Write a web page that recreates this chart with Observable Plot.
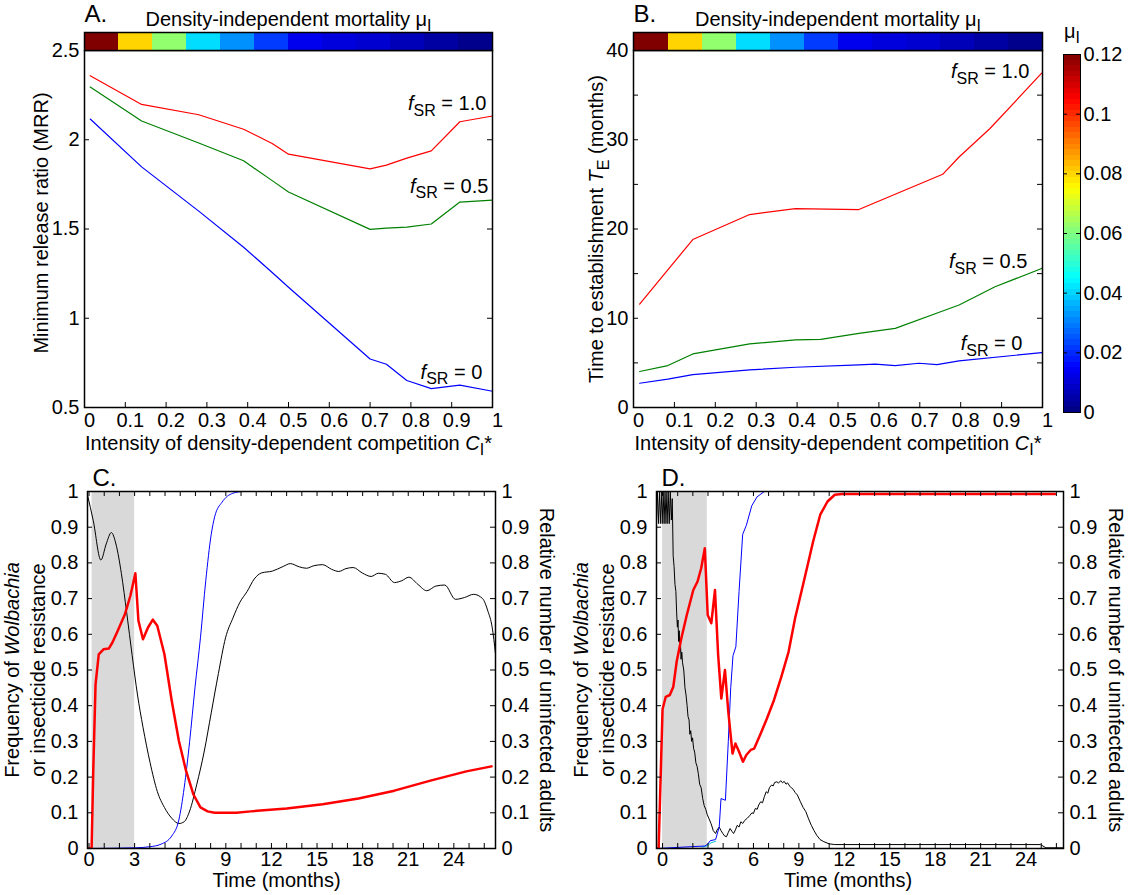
<!DOCTYPE html>
<html><head><meta charset="utf-8">
<script src="https://cdn.jsdelivr.net/npm/d3@7"></script>
<script src="https://cdn.jsdelivr.net/npm/@observablehq/plot@0.6"></script>
<style>
body{margin:0;background:#fff;}
#fig{position:relative;width:1128px;height:895px;overflow:hidden;background:#fff;}
#fig svg{position:absolute;overflow:visible;}
</style></head><body><div id="fig"></div>
<script>
// ---------------- DATA ----------------
// Panel A: minimum release ratio vs competition intensity
const competitionA = [0.014, 0.14, 0.28, 0.39, 0.46, 0.50, 0.70, 0.74, 0.79, 0.85, 0.92, 1.0];
const mrrF10 = [2.358, 2.198, 2.14, 2.059, 1.979, 1.919, 1.837, 1.858, 1.897, 1.938, 2.101, 2.133];
const mrrF05 = [2.295, 2.105, 1.982, 1.882, 1.771, 1.707, 1.498, 1.505, 1.511, 1.528, 1.651, 1.662];
const mrrF00 = [2.116, 1.848, 1.60, 1.398, 1.256, 1.174, 0.772, 0.742, 0.651, 0.606, 0.625, 0.591];
// Panel B: time to establishment (months)
const teF10 = [[0.015,11.59],[0.145,18.82],[0.284,21.62],[0.396,22.29],[0.551,22.18],[0.756,26.13],[0.796,28.07],[0.871,31.23],[0.998,37.46]];
const teF05 = [[0.015,4.03],[0.084,4.70],[0.145,6.0],[0.284,7.12],[0.396,7.57],[0.458,7.64],[0.551,8.31],[0.64,8.87],[0.751,10.73],[0.796,11.48],[0.884,13.53],[0.998,15.58]];
const teF00 = [[0.015,2.72],[0.084,3.17],[0.145,3.69],[0.284,4.21],[0.396,4.51],[0.551,4.77],[0.591,4.85],[0.64,4.70],[0.698,4.96],[0.742,4.81],[0.796,5.22],[0.998,6.15]];
// density-independent mortality for the 12 strip segments
const segIndex = [0,1,2,3,4,5,6,7,8,9,10,11];
const segMu = [0.12, 0.08, 0.062, 0.041, 0.032, 0.022, 0.013, 0.011, 0.0095, 0.0066, 0.004, 0.0015];
// Panel C time series (months, frequency)
const releaseC = [[0.2, 3.0]];
const cWolbachia = [[-0.1,0],[3.07,0.002],[4.02,0.005],[4.73,0.012],[5.44,0.035],[5.91,0.08],[6.26,0.17],[6.62,0.30],[6.97,0.45],[7.33,0.59],[7.68,0.75],[8.04,0.88],[8.27,0.93],[8.75,0.97],[9.46,0.995],[10.17,1.0],[26.74,1.0]];
const cResistance = [[-0.1,0],[0.17,0],[0.28,0.22],[0.43,0.46],[0.64,0.544],[0.95,0.558],[1.30,0.56],[1.54,0.577],[1.89,0.61],[2.36,0.656],[2.72,0.708],[3.05,0.771],[3.25,0.638],[3.55,0.586],[3.88,0.619],[4.2,0.641],[4.49,0.624],[4.96,0.544],[5.44,0.414],[5.91,0.302],[6.38,0.218],[6.86,0.152],[7.33,0.115],[7.80,0.104],[8.27,0.100],[9.69,0.100],[10.64,0.104],[13.0,0.112],[15.37,0.124],[17.73,0.140],[20.09,0.162],[22.46,0.190],[24.82,0.216],[26.48,0.230]];
const cUninfected = [[-0.1,0.99],[0.28,0.918],[0.78,0.808],[1.13,0.853],[1.47,0.885],[1.77,0.853],[2.13,0.77],[2.48,0.66],[2.84,0.54],[3.19,0.43],[3.55,0.34],[4.02,0.24],[4.49,0.16],[4.96,0.115],[5.44,0.085],[5.91,0.07],[6.26,0.075],[6.62,0.105],[7.09,0.18],[7.57,0.27],[8.04,0.38],[8.51,0.49],[8.98,0.59],[9.46,0.645],[9.93,0.69],[10.4,0.72],[10.87,0.755],[11.35,0.772],[12.06,0.777],[12.77,0.79],[13.24,0.798],[13.83,0.789],[14.3,0.785],[14.78,0.792],[15.37,0.795],[15.96,0.782],[16.43,0.776],[16.9,0.784],[17.38,0.787],[17.97,0.772],[18.56,0.762],[19.03,0.771],[19.5,0.768],[20.09,0.745],[20.57,0.75],[21.04,0.76],[21.63,0.74],[22.22,0.722],[22.81,0.735],[23.4,0.738],[24.11,0.698],[24.7,0.703],[25.3,0.712],[25.89,0.70],[26.24,0.665],[26.52,0.62],[26.74,0.545]];
// Panel D time series
const releaseD = [[0, 2.95]];
const dWolbachia = [[-0.4,0],[2.79,0.007],[2.98,0.012],[3.15,0.022],[3.50,0.025],[3.74,0.06],[3.86,0.14],[4.15,0.135],[4.34,0.30],[4.50,0.45],[4.65,0.54],[4.84,0.565],[5.05,0.72],[5.29,0.88],[5.53,0.905],[5.89,0.96],[6.24,0.985],[6.72,1.0],[25.9,1.0]];
const dOther = [[2.6,0.004],[2.98,0.008],[3.2,0.016],[3.5,0.02]];
const dResistance = [[-0.4,0],[-0.26,0],[0.0,0.39],[0.21,0.425],[0.48,0.43],[0.71,0.453],[0.93,0.523],[1.24,0.589],[1.60,0.654],[2.03,0.724],[2.31,0.748],[2.55,0.785],[2.79,0.841],[2.98,0.654],[3.22,0.631],[3.46,0.724],[3.67,0.542],[3.88,0.42],[4.12,0.5],[4.34,0.383],[4.62,0.266],[4.81,0.294],[5.05,0.271],[5.31,0.243],[5.53,0.262],[5.82,0.276],[6.05,0.28],[6.48,0.322],[6.89,0.364],[7.36,0.416],[7.84,0.481],[8.32,0.551],[8.75,0.645],[9.22,0.729],[9.58,0.794],[9.94,0.86],[10.41,0.935],[10.89,0.972],[11.37,0.991],[11.84,0.993],[25.9,0.993]];
const dUninfected = [[-0.4,0.91],[-0.33,1.0],[-0.26,0.91],[-0.19,1.0],[-0.12,0.91],[-0.05,1.0],[0.02,0.91],[0.09,1.0],[0.16,0.91],[0.23,1.0],[0.3,0.91],[0.37,1.0],[0.44,0.91],[0.51,1.0],[0.58,0.92],[0.64,0.98],[0.70,0.82],[0.76,0.79],[0.82,0.74],[0.88,0.72],[0.93,0.66],[0.98,0.62],[1.02,0.64],[1.06,0.58],[1.10,0.61],[1.14,0.55],[1.18,0.58],[1.22,0.53],[1.27,0.55],[1.32,0.52],[1.40,0.50],[1.48,0.45],[1.55,0.43],[1.62,0.40],[1.68,0.37],[1.75,0.36],[1.80,0.32],[1.86,0.33],[1.92,0.30],[1.98,0.31],[2.05,0.28],[2.12,0.27],[2.2,0.24],[2.28,0.23],[2.36,0.21],[2.45,0.18],[2.55,0.17],[2.65,0.14],[2.75,0.12],[2.85,0.11],[2.95,0.095],[3.05,0.085],[3.2,0.07],[3.35,0.05],[3.5,0.042],[3.6,0.052],[3.74,0.06],[3.86,0.05],[3.98,0.042],[4.1,0.035],[4.22,0.033],[4.34,0.045],[4.46,0.056],[4.58,0.048],[4.69,0.042],[4.81,0.052],[4.93,0.065],[5.05,0.06],[5.17,0.075],[5.29,0.07],[5.41,0.078],[5.6,0.085],[5.77,0.093],[5.9,0.1],[6.0,0.098],[6.12,0.112],[6.25,0.11],[6.35,0.122],[6.48,0.131],[6.6,0.128],[6.72,0.145],[6.84,0.159],[6.95,0.155],[7.05,0.17],[7.2,0.178],[7.3,0.175],[7.4,0.185],[7.55,0.187],[7.65,0.183],[7.8,0.19],[7.92,0.184],[8.03,0.188],[8.15,0.18],[8.25,0.184],[8.39,0.175],[8.5,0.17],[8.62,0.166],[8.75,0.157],[8.9,0.15],[9.1,0.131],[9.28,0.115],[9.46,0.103],[9.64,0.083],[9.82,0.065],[10.0,0.05],[10.18,0.037],[10.4,0.025],[10.65,0.019],[11.0,0.013],[11.37,0.011],[24.95,0.011],[25.31,0.002],[26.47,0.002]];
// tick values
const ticksAX = [0,0.1,0.2,0.3,0.4,0.5,0.6,0.7,0.8,0.9,1];
const ticksAY = [0.5,1,1.5,2,2.5];
const ticksBY = [0,10,20,30,40];
const minorBY = [0,5,10,15,20,25,30,35,40];
const ticksTime = [0,3,6,9,12,15,18,21,24];
const minorTime = [0,1,2,3,4,5,6,7,8,9,10,11,12,13,14,15,16,17,18,19,20,21,22,23,24,25,26];
const ticksFreq = [0,0.1,0.2,0.3,0.4,0.5,0.6,0.7,0.8,0.9,1];
const ticksMu = [0,0.02,0.04,0.06,0.08,0.1,0.12];
// inline labels (data coordinates)
const labelText = ["<i>f</i><sub>SR</sub> = 1.0", "<i>f</i><sub>SR</sub> = 0.5", "<i>f</i><sub>SR</sub> = 0"];
const labelXA = [0.985, 0.99, 0.975], labelYA = [2.164, 1.704, 0.662];
const labelXB = [0.968, 0.963, 0.951], labelYB = [36.9, 15.6, 6.4];

// ---------------- HELPERS ----------------
const FONT = '"Liberation Sans", Arial, Helvetica, sans-serif';
const baseStyle = {fontFamily: FONT, fontSize: "20px", color: "#000", background: "transparent", overflow: "visible"};
const fmt = d => String(d);
function jet(t) {
  const c = v => Math.max(0, Math.min(1, v));
  const r = c(Math.min(4*t - 1.5, -4*t + 4.5));
  const g = c(Math.min(4*t - 0.5, -4*t + 3.5));
  const b = c(Math.min(4*t + 0.5, -4*t + 2.5));
  return d3.rgb(r*255, g*255, b*255).formatHex();
}
const jetScale = {type: "linear", domain: [0, 0.12], interpolate: jet};
const lbl = (t, o) => Plot.text([t], {text: d => d, ...o});
const vlbl = (t, o) => Plot.text([t], {text: d => d, textAnchor: "middle", lineAnchor: "middle", ...o});
const px = d => d[0], py = d => d[1];

const fig = document.getElementById("fig");
function enrich(svg) {
  const NS = "http://www.w3.org/2000/svg";
  svg.querySelectorAll("text").forEach(t => {
    const src = t.textContent;
    if (!/<(i|sub)>/.test(src)) return;
    const fs = parseFloat(getComputedStyle(t).fontSize) || 20;
    while (t.firstChild) t.removeChild(t.firstChild);
    const re = /<i>(.*?)<\/i>|<sub>(.*?)<\/sub>|([^<]+)/g;
    let m, low = false; const sh = 0.28 * fs;
    while ((m = re.exec(src))) {
      const s = document.createElementNS(NS, "tspan");
      if (m[2] !== undefined) {
        s.textContent = m[2]; s.setAttribute("font-size", 0.8 * fs);
        if (!low) { s.setAttribute("dy", sh); low = true; }
      } else {
        s.textContent = m[1] !== undefined ? m[1] : m[3];
        if (m[1] !== undefined) s.setAttribute("font-style", "italic");
        if (low) { s.setAttribute("dy", -sh); low = false; }
      }
      t.appendChild(s);
    }
  });
}
function place(svg, left, top) {
  svg.style.left = left + "px"; svg.style.top = top + "px";
  fig.appendChild(svg); enrich(svg);
}

// ---------------- PANEL A ----------------
{
  const fw = 408, fh = 357;
  place(Plot.plot({
    width: 520, height: 440, marginLeft: 84, marginRight: 28, marginTop: 50, marginBottom: 33,
    style: baseStyle, x: {domain: [0, 1]}, y: {domain: [0.5, 2.5]},
    marks: [
      Plot.line(competitionA, {x: d => d, y: (d, i) => mrrF10[i], stroke: "#ff0000", strokeWidth: 1.2}),
      Plot.line(competitionA, {x: d => d, y: (d, i) => mrrF05[i], stroke: "#008000", strokeWidth: 1.2}),
      Plot.line(competitionA, {x: d => d, y: (d, i) => mrrF00[i], stroke: "#0000ff", strokeWidth: 1.2}),
      Plot.tickX(ticksAX, {x: d => d, insetTop: fh - 5}),
      Plot.tickY(ticksAY, {y: d => d, insetRight: fw - 5}),
      Plot.tickY(ticksAY, {y: d => d, insetLeft: fw - 5}),
      Plot.axisX({ticks: ticksAX, tickSize: 0, tickPadding: 5, tickFormat: fmt, label: null, dx: 5}),
      Plot.axisY({ticks: ticksAY, tickSize: 0, tickPadding: 5, tickFormat: fmt, label: null}),
      Plot.frame({stroke: "#000", strokeWidth: 1.5}),
      Plot.text(labelText, {x: (d, i) => labelXA[i], y: (d, i) => labelYA[i], text: d => d, textAnchor: "end", lineAnchor: "bottom", fontSize: 20}),
      lbl("A.", {frameAnchor: "top-left", textAnchor: "start", lineAnchor: "bottom", dy: -29, fontSize: 24}),
      lbl("Density-independent mortality μ<sub>I</sub>", {frameAnchor: "top", textAnchor: "middle", lineAnchor: "bottom", dy: -25, fontSize: 20}),
      vlbl("Minimum release ratio (MRR)", {frameAnchor: "left", rotate: -90, dx: -43, dy: -6, fontSize: 20}),
      lbl("Intensity of density-dependent competition <i>C</i><sub>I</sub>*", {frameAnchor: "bottom", textAnchor: "middle", lineAnchor: "bottom", dy: 42, fontSize: 20})
    ]
  }), 0, 0);
  place(Plot.plot({
    width: 408, height: 18, margin: 0, style: baseStyle,
    x: {type: "band", padding: 0, axis: null}, color: jetScale,
    marks: [Plot.cell(segIndex, {x: d => d, fill: (d, i) => segMu[i], inset: 0}), Plot.frame({stroke: "#000", strokeWidth: 1.5})]
  }), 84, 32);
}

// ---------------- PANEL B ----------------
{
  const fw = 409, fh = 357;
  place(Plot.plot({
    width: 500, height: 440, marginLeft: 73, marginRight: 18, marginTop: 50, marginBottom: 33,
    style: baseStyle, x: {domain: [0, 1]}, y: {domain: [0, 40]},
    marks: [
      Plot.line(teF10, {x: px, y: py, stroke: "#ff0000", strokeWidth: 1.2}),
      Plot.line(teF05, {x: px, y: py, stroke: "#008000", strokeWidth: 1.2}),
      Plot.line(teF00, {x: px, y: py, stroke: "#0000ff", strokeWidth: 1.2}),
      Plot.tickX(ticksAX, {x: d => d, insetTop: fh - 5}),
      Plot.tickY(minorBY, {y: d => d, insetRight: fw - 5}),
      Plot.tickY(minorBY, {y: d => d, insetLeft: fw - 5}),
      Plot.axisX({ticks: ticksAX, tickSize: 0, tickPadding: 5, tickFormat: fmt, label: null, dx: 5}),
      Plot.axisY({ticks: ticksBY, tickSize: 0, tickPadding: 5, tickFormat: fmt, label: null}),
      Plot.frame({stroke: "#000", strokeWidth: 1.5}),
      Plot.text(labelText, {x: (d, i) => labelXB[i], y: (d, i) => labelYB[i], text: d => d, textAnchor: "end", lineAnchor: "bottom", fontSize: 20}),
      lbl("B.", {frameAnchor: "top-left", textAnchor: "start", lineAnchor: "bottom", dy: -29, fontSize: 24}),
      lbl("Density-independent mortality μ<sub>I</sub>", {frameAnchor: "top", textAnchor: "middle", lineAnchor: "bottom", dy: -25, fontSize: 20}),
      vlbl("Time to establishment <i>T</i><sub>E</sub> (months)", {frameAnchor: "left", rotate: -90, dx: -37, dy: 0, fontSize: 20}),
      lbl("Intensity of density-dependent competition <i>C</i><sub>I</sub>*", {frameAnchor: "bottom", textAnchor: "middle", lineAnchor: "bottom", dy: 42, fontSize: 20})
    ]
  }), 560, 0);
  place(Plot.plot({
    width: 409, height: 18, margin: 0, style: baseStyle,
    x: {type: "band", padding: 0, axis: null}, color: jetScale,
    marks: [Plot.cell(segIndex, {x: d => d, fill: (d, i) => segMu[i], inset: 0}), Plot.frame({stroke: "#000", strokeWidth: 1.5})]
  }), 633, 32);
}

// ---------------- COLORBAR ----------------
{
  const n = 64, top = 0.12;
  const steps = d3.range(n).map(i => ({lo: i * top / n, hi: (i + 1) * top / n, mid: (i + 0.5) * top / n}));
  place(Plot.plot({
    width: 88, height: 385, marginLeft: 23, marginRight: 48, marginTop: 14, marginBottom: 13,
    style: baseStyle, y: {domain: [0, 0.12]}, color: jetScale,
    marks: [
      Plot.rect(steps, {y1: "lo", y2: "hi", fill: "mid", shapeRendering: "crispEdges"}),
      Plot.tickY(ticksMu, {y: d => d, insetLeft: 13}),
      Plot.tickY(ticksMu, {y: d => d, insetRight: 13}),
      Plot.axisY({anchor: "right", ticks: ticksMu, tickSize: 0, tickPadding: 3, tickFormat: fmt, label: null}),
      Plot.frame({stroke: "#000", strokeWidth: 1}),
      lbl("μ<sub>I</sub>", {frameAnchor: "top", textAnchor: "middle", lineAnchor: "bottom", dy: -17, fontSize: 20})
    ]
  }), 1040, 40);
}

// ---------------- PANELS C & D ----------------
function timePanel({letter, domain, release, wol, res, uninf, extra, ml, mr, ldx1, ldx2, rdx, xdx}) {
  const fw = 540 - ml - mr, fh = 357;
  return Plot.plot({
    width: 540, height: 430, marginLeft: ml, marginRight: mr, marginTop: 41, marginBottom: 32,
    style: baseStyle, x: {domain}, y: {domain: [0, 1]},
    marks: [
      Plot.rect(release, {x1: px, x2: py, fill: "#d9d9d9"}),
      Plot.line(uninf, {x: px, y: py, stroke: "#000", strokeWidth: 1, curve: letter === "C." ? "monotone-x" : "linear", clip: true}),
      extra ? Plot.line(extra, {x: px, y: py, stroke: "#00c8d0", strokeWidth: 1, clip: true}) : null,
      Plot.line(wol, {x: px, y: py, stroke: "#0000ff", strokeWidth: 1, curve: letter === "C." ? "monotone-x" : "linear", clip: true}),
      Plot.line(res, {x: px, y: py, stroke: "#ff0000", strokeWidth: 2.5, clip: true}),
      Plot.tickX(minorTime, {x: d => d, insetTop: fh - 5}),
      Plot.tickX(minorTime, {x: d => d, insetBottom: fh - 5}),
      Plot.tickY(ticksFreq, {y: d => d, insetRight: fw - 5}),
      Plot.tickY(ticksFreq, {y: d => d, insetLeft: fw - 5}),
      Plot.axisX({ticks: ticksTime, tickSize: 0, tickPadding: 3, tickFormat: fmt, label: null}),
      Plot.axisY({ticks: ticksFreq, tickSize: 0, tickPadding: 9, tickFormat: fmt, label: null}),
      Plot.axisY({anchor: "right", ticks: ticksFreq, tickSize: 0, tickPadding: 6, tickFormat: fmt, label: null}),
      Plot.frame({stroke: "#000", strokeWidth: 1.5}),
      lbl(letter, {frameAnchor: "top-left", textAnchor: "start", lineAnchor: "bottom", dx: 5, dy: -6, fontSize: 24}),
      vlbl("Frequency of <i>Wolbachia</i>", {frameAnchor: "left", rotate: -90, dx: ldx1, fontSize: 20}),
      vlbl("or insecticide resistance", {frameAnchor: "left", rotate: -90, dx: ldx2, fontSize: 20}),
      vlbl("Relative number of uninfected adults", {frameAnchor: "right", rotate: 90, dx: rdx, fontSize: 20}),
      lbl("Time (months)", {frameAnchor: "bottom", textAnchor: "middle", lineAnchor: "bottom", dx: xdx, dy: 38, fontSize: 20})
    ]
  });
}
place(timePanel({letter: "C.", domain: [-0.1, 26.74], release: releaseC, wol: cWolbachia, res: cResistance, uninf: cUninfected, extra: null, ml: 87, mr: 45, ldx1: -75, ldx2: -48.5, rdx: 51, xdx: -15}), 0, 450);
place(timePanel({letter: "D.", domain: [-0.4, 26.47], release: releaseD, wol: dWolbachia, res: dResistance, uninf: dUninfected, extra: dOther, ml: 96, mr: 37, ldx1: -75, ldx2: -49, rdx: 52, xdx: -12}), 560, 450);
</script></body></html>
